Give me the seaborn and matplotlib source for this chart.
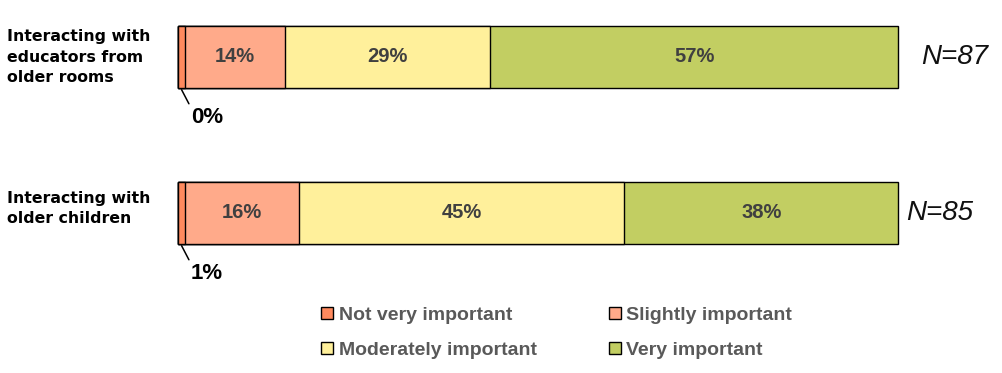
import matplotlib
matplotlib.use("Agg")
import matplotlib.pyplot as plt
import matplotlib.transforms as mtransforms
from matplotlib.patches import Patch
import numpy as np
import pandas as pd
import seaborn as sns

# ---- data ----
rows = ["Interacting with\neducators from\nolder rooms", "Interacting with\nolder children"]
levels = ["Not very important", "Slightly important", "Moderately important", "Very important"]
not_very = [1.0, 1.0]
slightly = [13.8, 15.8]
moderately = [28.6, 45.2]
very = [56.6, 38.0]
small_labels = ["0%", "1%"]
n_labels = ["N=87", "N=85"]
colors = ["#FF8A5E", "#FFAA8A", "#FFF09B", "#C2CE62"]

sns.set_theme(style="white")
plt.rcParams["font.family"] = ["Liberation Sans", "DejaVu Sans"]

fig = plt.figure(figsize=(10.03, 3.73), dpi=100)
ax = fig.add_axes([178 / 1003, 0, 720 / 1003, 1])

series = [not_very, slightly, moderately, very]
df = pd.DataFrame({lv: s for lv, s in zip(levels, series)}, index=rows)
cum = df.cumsum(axis=1)

# draw from largest cumulative to smallest so segments appear stacked
for lv, col in reversed(list(zip(levels, colors))):
    d = pd.DataFrame({"row": rows, "val": cum[lv].values})
    sns.barplot(data=d, x="val", y="row", orient="h", color=col, saturation=1,
                edgecolor="black", linewidth=1, width=0.4, ax=ax)
for p in ax.patches:
    p.set_clip_on(False)

ax.set_xlim(0, 100)
ax.set_ylim((373 - 57) / 156, -57 / 156)
ax.axis("off")

# segment labels
for i, r in enumerate(rows):
    for lv in levels[1:]:
        v = df.loc[r, lv]
        c = cum.loc[r, lv] - v / 2
        ax.text(c, i, f"{v:.0f}%", ha="center", va="center", fontsize=14.5,
                fontweight="bold", color="#404040")
    # small first-segment label with leader line
    ax.annotate(small_labels[i], xy=(df.loc[r, levels[0]] * 0.5, i + 0.21),
                xytext=(6.5, -20), textcoords="offset points",
                ha="left", va="center", fontsize=16, fontweight="bold", color="black",
                annotation_clip=False,
                arrowprops=dict(arrowstyle="-", color="black", lw=1.1,
                                shrinkA=0, shrinkB=0, relpos=(0, 1)))

# N labels
n_offsets = [17, 6]
for i, r in enumerate(rows):
    ax.annotate(n_labels[i], xy=(cum.loc[r, levels[-1]], i), xytext=(n_offsets[i], 0),
                textcoords="offset points", ha="left", va="center",
                annotation_clip=False,
                fontsize=20, fontstyle="italic", color="#111111")

# row labels
tr = mtransforms.blended_transform_factory(fig.transFigure, ax.transData)
for i, r in enumerate(rows):
    fig.text(7 / 1003, i - 0.03 * i, r, transform=tr, ha="left", va="center",
             fontsize=11.3, fontweight="bold", color="black",
             family=["DejaVu Sans"], linespacing=1.45)

# legend (row-major order: reorder for matplotlib's column filling)
handles = [Patch(facecolor=c, edgecolor="black", linewidth=1) for c in colors]
order = [0, 2, 1, 3]
fig.legend([handles[k] for k in order], [levels[k] for k in order], ncol=2,
           loc="upper left", bbox_to_anchor=(304 / 1003, 1 - 289 / 373), frameon=False,
           handlelength=0.6, handleheight=0.6, handletextpad=0.3,
           columnspacing=3.7, labelspacing=0.95, labelcolor="#595959",
           prop={"size": 14, "weight": "bold"})

fig.savefig("out.png", dpi=100)
